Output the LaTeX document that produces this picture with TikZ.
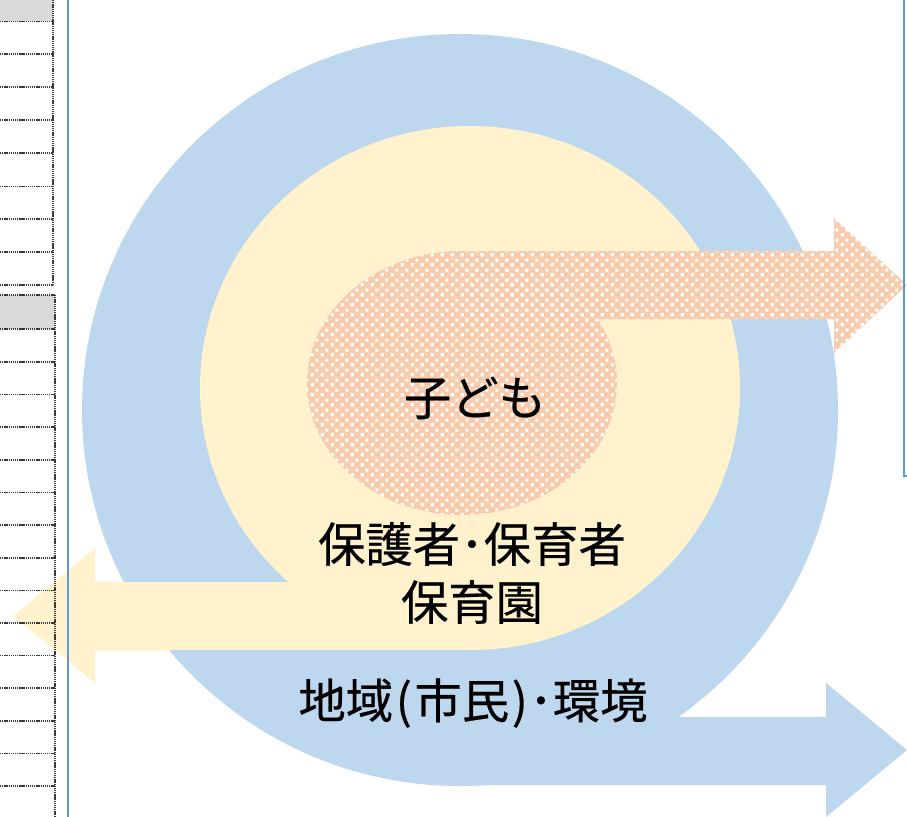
\documentclass[tikz,border=0pt]{standalone}
\usepackage{fontspec}
\setmainfont{Noto Sans CJK JP}
\newfontfamily\jpfont[FakeBold=0.5]{Noto Sans CJK JP}
\usetikzlibrary{patterns}
\definecolor{blueC}{HTML}{BDD7EE}
\definecolor{yellowC}{HTML}{FFF2CC}
\definecolor{orangeC}{HTML}{F8CBAD}
\definecolor{lineC}{HTML}{5B9BD5}
\definecolor{headC}{HTML}{D9D9D9}
\pgfdeclarepatternformonly{ocheck}{\pgfpointorigin}{\pgfpoint{7.5pt}{7.5pt}}{\pgfpoint{7.5pt}{7.5pt}}{%
 \pgfpathrectangle{\pgfpoint{0.6pt}{0.6pt}}{\pgfpoint{2.6pt}{2.6pt}}%
 \pgfpathrectangle{\pgfpoint{4.35pt}{4.35pt}}{\pgfpoint{2.6pt}{2.6pt}}%
 \pgfusepath{fill}}
\begin{document}
\begin{tikzpicture}[x=0.75pt,y=-0.75pt,
  lbl/.style={font=\jpfont\fontsize{35.5}{43.5}\selectfont, text=black, inner sep=0pt, align=center},
  tbl/.style={line width=1.3pt, draw=gray!45!black, dash pattern=on 1pt off 0.6pt},
  frameline/.style={line width=0.9pt, draw=lineC}]
\useasboundingbox (0,0) rectangle (907,817);
% blue layer
\fill[blueC] (460,410) ellipse [x radius=378, y radius=376];
\fill[blueC] (428,717) -- (826,717) -- (826,683) -- (907,750) -- (826,817) -- (826,785) -- (428,785) -- cycle;
% yellow layer
\fill[yellowC] (470,388) ellipse [x radius=270, y radius=262];
\fill[yellowC] (470,582) -- (95,582) -- (95,548) -- (13,616) -- (95,683) -- (95,650) -- (470,650) -- cycle;
% orange layer
\fill[orangeC] (462,383) ellipse [x radius=155, y radius=132];
\fill[orangeC] (462,251) -- (834,251) -- (834,218) -- (907,285) -- (834,353) -- (834,319) -- (462,319) -- cycle;
\fill[pattern=ocheck, pattern color=white] (462,383) ellipse [x radius=155, y radius=132];
\fill[pattern=ocheck, pattern color=white] (462,251) -- (834,251) -- (834,218) -- (907,285) -- (834,353) -- (834,319) -- (462,319) -- cycle;
% texts
\node[lbl] (kodomo) at (475,398) {子ども};
\node[lbl] (hogo) at (472,573) {保護者･保育者\\保育園};
\node[lbl] (chiiki) at (473,703) {地域\kern2pt(\kern2pt市民\kern2pt)\kern1pt･環境};
% left tables
\fill[headC] (0,0) rectangle (53,21.5);
\foreach \yy in {21.5,54,87,120,153,186.5,219,252,285}
  \draw[tbl] (0,\yy) -- (53,\yy);
\draw[tbl] (53,0) -- (53,285);
\fill[headC] (0,295) rectangle (55,329);
\foreach \yy in {295,329,362,394.5,427,460,492.5,525,558,590.5,623,655.5,688,721,753.5,786}
  \draw[tbl] (0,\yy) -- (55,\yy);
\draw[tbl] (55,295) -- (55,817);
% frame lines
\draw[frameline] (68,0) -- (68,817);
\draw[frameline] (904,0) -- (904,476) -- (907,476);
\end{tikzpicture}
\end{document}
